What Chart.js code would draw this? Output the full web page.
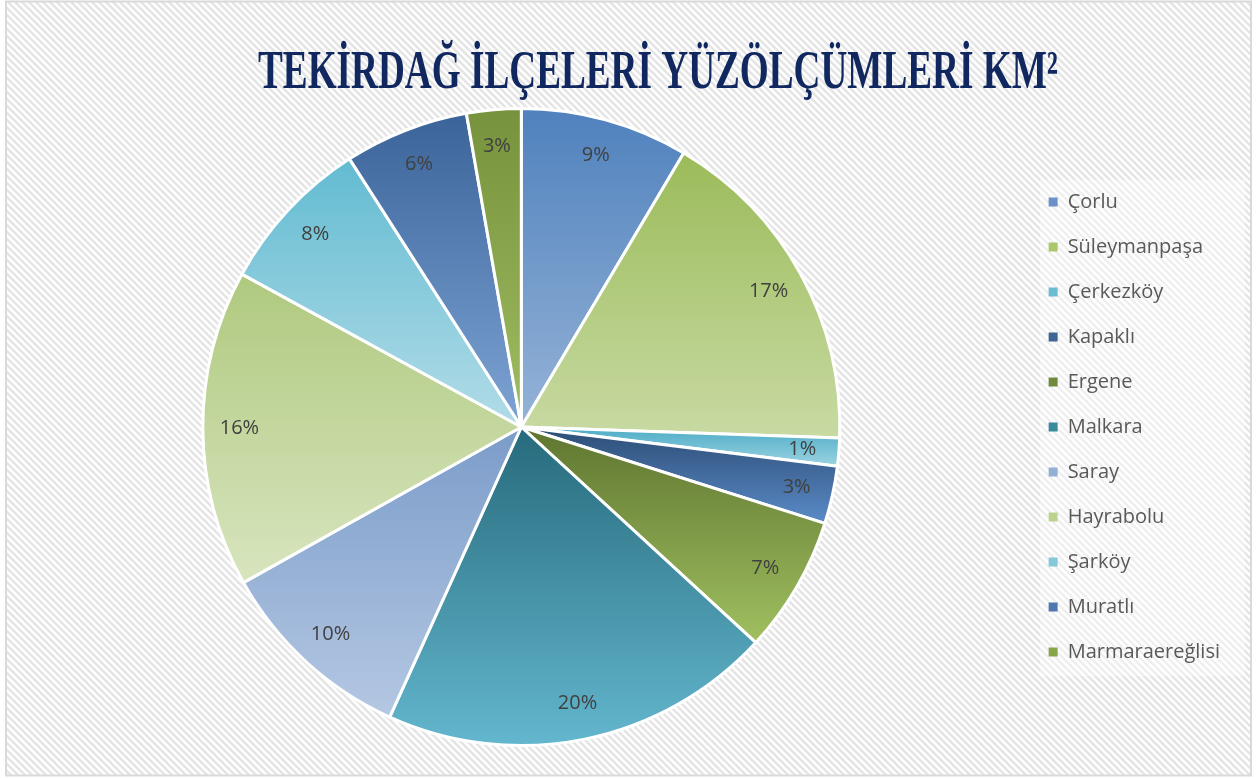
<!DOCTYPE html>
<html>
<head>
<meta charset="utf-8">
<script src="https://cdn.jsdelivr.net/npm/chart.js@4.4.1/dist/chart.umd.min.js"></script>
<style>
  html, body { margin: 0; padding: 0; background: #fff; }
  #wrap { width: 1257px; height: 778px; }
</style>
</head>
<body>
<div id="wrap"><canvas id="pie" width="1257" height="778"></canvas></div>
<script>
// district names and surface areas (km2)
const districts = ['Çorlu', 'Süleymanpaşa', 'Çerkezköy', 'Kapaklı', 'Ergene', 'Malkara',
                   'Saray', 'Hayrabolu', 'Şarköy', 'Muratlı', 'Marmaraereğlisi'];
const areas = [540, 1080, 90, 185, 440, 1265, 640, 1020, 505, 400, 175];
const chartTitle = 'TEKİRDAĞ İLÇELERİ YÜZÖLÇÜMLERİ KM²';

// gradient colours per slice: top -> bottom
const topColors = ['#4f81bd', '#9bbb59', '#4bacc6', '#2c4d75', '#5f7530', '#276a7c',
                   '#7b9cc9', '#afc97e', '#62bbd1', '#3a6399', '#76923c'];
const bottomColors = ['#95b3d7', '#c8daa3', '#9dd3e2', '#5b8bc8', '#a0c060', '#63b7ce',
                      '#b5c8e3', '#d8e5bf', '#b2dce8', '#7ea4d4', '#9fbd62'];
const legendColors = ['#6a92c8', '#aac76e', '#6dbdd2', '#3f6597', '#71893c', '#3a8a9e',
                      '#93afd6', '#bcd390', '#85c8da', '#4e78ad', '#87a64a'];

const total = areas.reduce((a, b) => a + b, 0);

function sliceGradient(context) {
    const i = context.dataIndex;
    const chart = context.chart;
    const area = chart.chartArea;
    if (!area) return topColors[i];
    const cx = (area.left + area.right) / 2;
    const cy = (area.top + area.bottom) / 2;
    const r = Math.min(area.width, area.height) / 2;
    let before = 0;
    for (let k = 0; k < i; k++) before += areas[k];
    const a0 = -Math.PI / 2 + before / total * Math.PI * 2;
    const a1 = a0 + areas[i] / total * Math.PI * 2;
    const ys = [cy, cy + r * Math.sin(a0), cy + r * Math.sin(a1)];
    // arc passes the bottom (PI/2) or the top (3PI/2)?
    [Math.PI / 2, Math.PI * 1.5].forEach(a => {
        let t = a;
        while (t < a0) t += Math.PI * 2;
        if (t <= a1) ys.push(cy + r * Math.sin(t));
    });
    const y0 = Math.min(...ys), y1 = Math.max(...ys);
    const g = chart.ctx.createLinearGradient(0, y0, 0, Math.max(y1, y0 + 1));
    g.addColorStop(0, topColors[i]);
    g.addColorStop(1, bottomColors[i]);
    return g;
}

// striped background, frame and legend backing
const backgroundPlugin = {
    id: 'stripes',
    beforeDraw(chart) {
        const ctx = chart.ctx;
        const w = chart.width, h = chart.height;
        ctx.save();
        ctx.fillStyle = '#ffffff';
        ctx.fillRect(0, 0, w, h);
        ctx.beginPath();
        ctx.rect(7, 2, w - 13, h - 5);
        ctx.clip();
        ctx.strokeStyle = '#e5e5e5';
        ctx.lineWidth = 2.6;
        for (let k = -h; k < w; k += 7) {
            ctx.beginPath();
            ctx.moveTo(k, 0);
            ctx.lineTo(k + h, h);
            ctx.stroke();
        }
        ctx.restore();
        ctx.save();
        ctx.strokeStyle = '#d9d9d9';
        ctx.lineWidth = 2;
        ctx.strokeRect(6, 1.5, w - 12, h - 4);
        ctx.fillStyle = 'rgba(255,255,255,0.4)';
        ctx.fillRect(1040, 180, 205, 496);
        ctx.restore();
    }
};

// title drawn to fit the width of the original condensed face
const titlePlugin = {
    id: 'bigTitle',
    afterDraw(chart) {
        const ctx = chart.ctx;
        ctx.save();
        ctx.font = 'bold 54px "Liberation Serif", serif';
        ctx.fillStyle = '#10285f';
        ctx.textBaseline = 'alphabetic';
        const tw = ctx.measureText(chartTitle).width;
        const target = 800;
        ctx.translate(658, 88);
        ctx.scale(target / tw, 1);
        ctx.textAlign = 'center';
        ctx.fillText(chartTitle, 0, 0);
        ctx.restore();
    }
};

// percentage labels, inside end of every slice
const percentPlugin = {
    id: 'percentLabels',
    afterDatasetsDraw(chart) {
        const ctx = chart.ctx;
        const meta = chart.getDatasetMeta(0);
        ctx.save();
        ctx.font = '20px "Open Sans", sans-serif';
        ctx.fillStyle = '#404040';
        ctx.textAlign = 'center';
        ctx.textBaseline = 'middle';
        meta.data.forEach((arc, i) => {
            const p = arc.getProps(['x', 'y', 'startAngle', 'endAngle', 'outerRadius'], true);
            const mid = (p.startAngle + p.endAngle) / 2;
            const r = p.outerRadius * 0.885;
            const pct = Math.round(areas[i] / total * 100) + '%';
            ctx.fillText(pct, p.x + Math.cos(mid) * r, p.y + Math.sin(mid) * r);
        });
        ctx.restore();
    }
};

new Chart(document.getElementById('pie'), {
    type: 'pie',
    data: {
        labels: districts,
        datasets: [{
            data: areas,
            backgroundColor: sliceGradient,
            borderColor: '#ffffff',
            borderWidth: 3
        }]
    },
    options: {
        responsive: false,
        animation: false,
        layout: {
            padding: { top: 107, bottom: 31, left: 19, right: 27 }
        },
        plugins: {
            title: { display: false },
            tooltip: { enabled: false },
            legend: {
                position: 'right',
                labels: {
                    boxWidth: 9,
                    boxHeight: 9,
                    padding: 25,
                    color: '#595959',
                    font: { family: '"Open Sans", sans-serif', size: 20 },
                    generateLabels(chart) {
                        const items = Chart.overrides.pie.plugins.legend.labels.generateLabels(chart);
                        return items.map((it, i) => Object.assign(it, {
                            fillStyle: legendColors[i],
                            strokeStyle: legendColors[i],
                            lineWidth: 0
                        }));
                    }
                }
            }
        }
    },
    plugins: [backgroundPlugin, titlePlugin, percentPlugin]
});
</script>
</body>
</html>
